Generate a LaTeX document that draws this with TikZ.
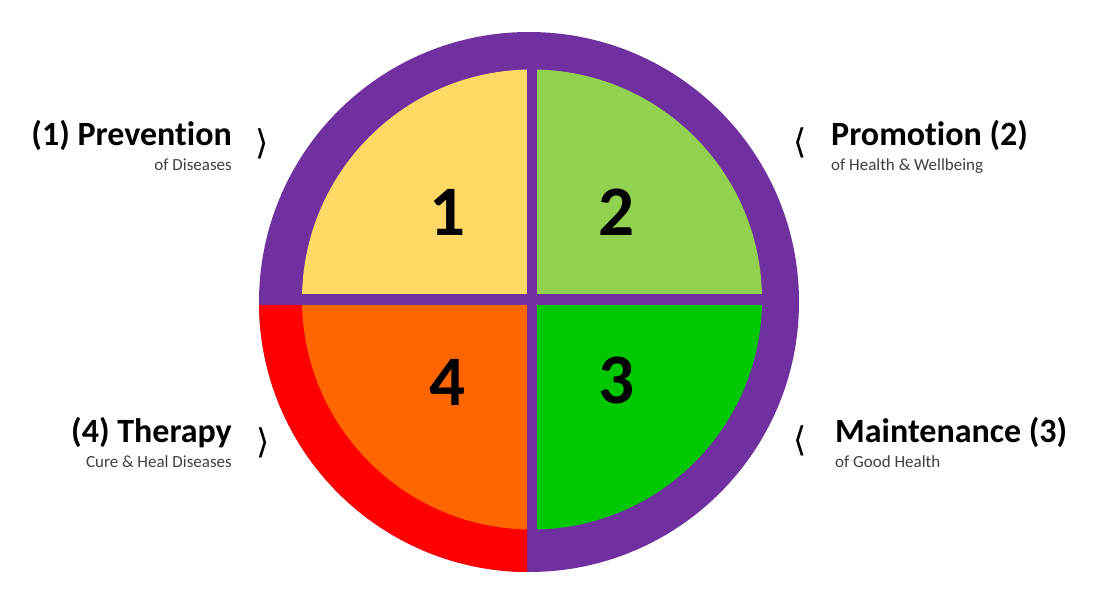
\documentclass[tikz,border=0pt]{standalone}
\usepackage{fontspec}
\setmainfont{Carlito}[Ligatures={NoCommon}]
\newfontfamily\chevfont{DejaVu Sans}
\definecolor{ringpurple}{HTML}{7030A0}
\definecolor{qyellow}{HTML}{FFD966}
\definecolor{qlgreen}{HTML}{92D050}
\definecolor{qgreen}{HTML}{00C800}
\definecolor{qorange}{HTML}{FF6600}
\definecolor{ringred}{HTML}{FF0000}
\definecolor{subgrey}{HTML}{404040}
\tikzset{
  bigtitle/.style={inner sep=0pt, font=\bfseries\fontsize{34}{38}\selectfont, text=black},
  subtitle/.style={inner sep=0pt, font=\fontsize{17}{20}\selectfont, text=subgrey},
  quadnum/.style={inner sep=0pt, font=\bfseries\fontsize{71}{80}\selectfont, text=black},
  chev/.style={inner sep=0pt, font=\chevfont\fontsize{34}{38}\selectfont, text=black},
}
\begin{document}
\begin{tikzpicture}[x=1pt,y=-1pt]
\useasboundingbox[fill=white] (0,0) rectangle (1095,607);
% outer ring
\fill[ringpurple] (529,302) circle (270pt);
\begin{scope}
  \clip (250,305) rectangle (527,590);
  \fill[ringred] (529,302) circle (270pt);
\end{scope}
% quadrants
\begin{scope}
  \clip (532,299.5) circle (230pt);
  \fill[qyellow] (290,60) rectangle (527,293.5);
  \fill[qlgreen] (537,60) rectangle (780,293.5);
  \fill[qorange] (290,305) rectangle (527,540);
  \fill[qgreen] (537,305) rectangle (780,540);
\end{scope}
% quadrant numbers
\node[quadnum] (n1) at (447,212.5) {1};
\node[quadnum] (n2) at (616,212.5) {2};
\node[quadnum] (n4) at (447,382.5) {4};
\node[quadnum] (n3) at (616,380.5) {3};
% labels
\node[bigtitle, anchor=base east] (prev) at (232,146) {(1) Prevention};
\node[subtitle, anchor=base east] (prevsub) at (232,171) {of Diseases};
\node[chev] (prevchev) at (262,144) {⟩};

\node[bigtitle, anchor=base west] (prom) at (831,146) {Promotion (2)};
\node[subtitle, anchor=base west] (promsub) at (831,171) {of Health \& Wellbeing};
\node[chev] (promchev) at (800,143) {⟨};

\node[bigtitle, anchor=base east] (ther) at (232,442) {(4) Therapy};
\node[subtitle, anchor=base east] (thersub) at (232,467) {Cure \& Heal Diseases};
\node[chev] (therchev) at (263,443) {⟩};

\node[bigtitle, anchor=base west] (main) at (835,442) {Maintenance (3)};
\node[subtitle, anchor=base west] (mainsub) at (835,467) {of Good Health};
\node[chev] (mainchev) at (800,441) {⟨};
\end{tikzpicture}
\end{document}
